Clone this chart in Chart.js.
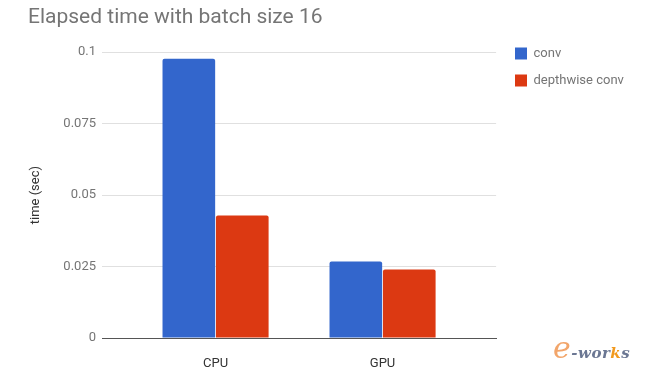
<!DOCTYPE html>
<html>
<head>
<meta charset="utf-8">
<script src="https://cdn.jsdelivr.net/npm/chart.js@4"></script>
<style>
  html, body { margin: 0; padding: 0; background: #fff; }
  #wrap { position: relative; width: 646px; height: 371px; }
  #logo { position: absolute; left: 553px; top: 330px; font-family: "DejaVu Serif", serif; font-style: italic; font-weight: bold; font-size: 15px; color: #6b7793; letter-spacing: 0.5px; }
  #logo .e { color: #f2a56a; font-size: 30px; font-weight: normal; }
  #logo .k { color: #f29a1f; }
</style>
</head>
<body>
<div id="wrap">
  <canvas id="grafico" width="646" height="371"></canvas>
  <div id="logo"><span class="e">e</span>-wor<span class="k">k</span>s</div>
</div>
<script>
// datos
const categorias = ['CPU', 'GPU'];
const tiemposConv = [0.0977, 0.0268];
const tiemposDepthwise = [0.0429, 0.0240];
const ticksY = [0, 0.025, 0.05, 0.075, 0.1];

const gris = '#757575';

// mueve la leyenda a su sitio
const moverLeyenda = {
    id: 'moverLeyenda',
    afterLayout(chart) {
        const lg = chart.legend;
        lg.left = 501;
        lg.top = 33;
    }
};

const ctx = document.getElementById('grafico').getContext('2d');
new Chart(ctx, {
    type: 'bar',
    data: {
        datasets: [{
            label: 'conv',
            data: tiemposConv.map((v, i) => ({ x: i, y: v })),
            backgroundColor: '#3366cc',
            borderRadius: 2,
            categoryPercentage: 0.64,
            barPercentage: 0.985
        }, {
            label: 'depthwise conv',
            data: tiemposDepthwise.map((v, i) => ({ x: i, y: v })),
            backgroundColor: '#dc3912',
            borderRadius: 2,
            categoryPercentage: 0.64,
            barPercentage: 0.985
        }]
    },
    options: {
        responsive: false,
        animation: false,
        layout: { padding: { left: 28, right: 17, top: 0, bottom: 0 } },
        plugins: {
            title: {
                display: true,
                text: 'Elapsed time with batch size 16',
                align: 'start',
                color: gris,
                font: { family: 'Roboto', size: 21, weight: 'normal' },
                padding: { top: 5, bottom: 22 }
            },
            legend: {
                position: 'right',
                align: 'start',
                labels: {
                    boxWidth: 12,
                    boxHeight: 12,
                    padding: 14,
                    color: gris,
                    font: { family: 'Roboto', size: 13 }
                }
            },
            tooltip: { enabled: false }
        },
        scales: {
            x: {
                type: 'linear',
                offset: false,
                min: -0.68,
                max: 1.68,
                afterBuildTicks: (axis) => { axis.ticks = categorias.map((c, i) => ({ value: i })); },
                afterFit: (scale) => { scale.height = 33; },
                grid: { display: false },
                border: { color: '#555', width: 1 },
                ticks: {
                    callback: (v) => categorias[v],
                    color: '#333',
                    padding: 10,
                    font: { family: 'Roboto', size: 13 }
                }
            },
            y: {
                min: 0,
                max: 0.1,
                afterBuildTicks: (axis) => { axis.ticks = ticksY.map(v => ({ value: v })); },
                afterFit: (scale) => { scale.width = 74; },
                border: { display: false },
                grid: { color: '#e0e0e0', drawTicks: false },
                ticks: {
                    callback: (v) => String(+v.toFixed(3)),
                    color: gris,
                    padding: 6,
                    font: { family: 'Roboto', size: 13 }
                },
                title: {
                    display: true,
                    text: 'time (sec)',
                    color: '#333',
                    padding: 0,
                    font: { family: 'Roboto', size: 13 }
                }
            }
        }
    },
    plugins: [moverLeyenda]
});
</script>
</body>
</html>
